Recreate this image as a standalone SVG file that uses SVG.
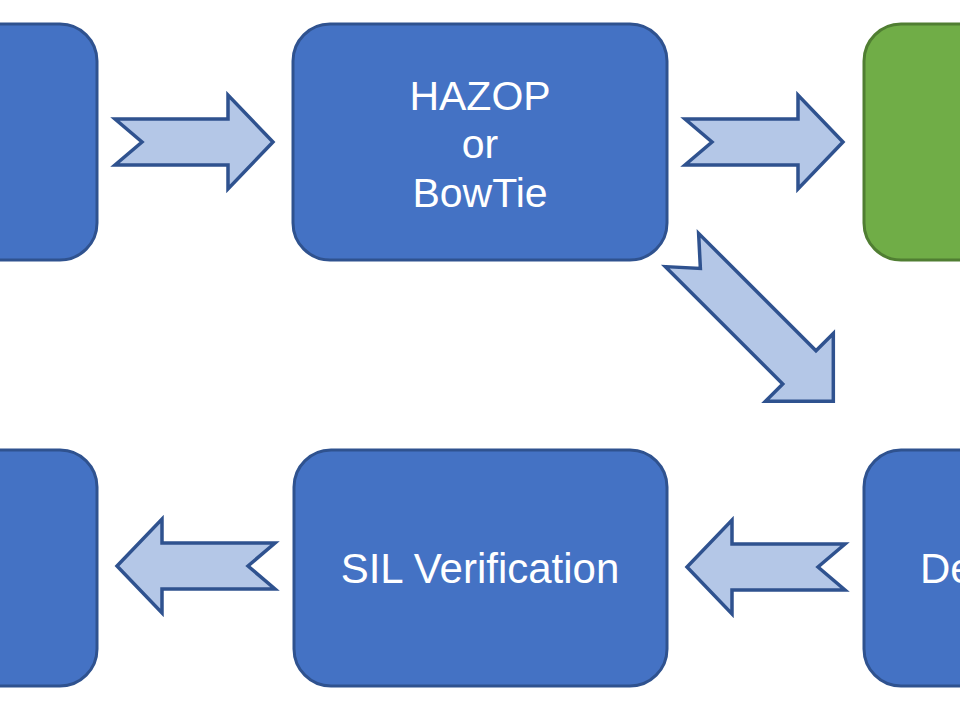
<svg xmlns="http://www.w3.org/2000/svg" width="960" height="720" viewBox="0 0 960 720">
  <style>
    .box { fill: #4472C4; stroke: #2F528F; stroke-width: 3; }
    .green { fill: #70AD47; stroke: #507E32; stroke-width: 3; }
    .label { font-family: "Liberation Sans", Arial, sans-serif; font-size: 41px; fill: #FFFFFF; text-anchor: middle; }
    .arrow { fill: #B4C7E7; stroke: #2F528F; stroke-width: 3.5; stroke-linejoin: miter; }
  </style>
  <defs>
    <polygon id="arrowR" points="0,-23 113,-23 113,-47 158,0 113,47 113,23 0,23 27,0"/>
  </defs>
  <rect width="960" height="720" fill="#FFFFFF"/>

  <g id="node-top-left">
    <rect class="box" x="-277" y="24" width="374" height="236" rx="37" ry="37"/>
  </g>
  <g id="node-hazop">
    <rect class="box" x="293" y="24" width="374" height="236" rx="37" ry="37"/>
    <text class="label" x="480" y="110">HAZOP</text>
    <text class="label" x="480" y="158">or</text>
    <text class="label" x="480" y="207">BowTie</text>
  </g>
  <g id="node-top-right">
    <rect class="green" x="864" y="24" width="374" height="236" rx="37" ry="37"/>
  </g>
  <g id="node-bottom-left">
    <rect class="box" x="-277" y="450" width="374" height="236" rx="37" ry="37"/>
  </g>
  <g id="node-sil">
    <rect class="box" x="294" y="450" width="373" height="236" rx="37" ry="37"/>
    <text class="label" x="480" y="583" style="font-size:42px">SIL Verification</text>
  </g>
  <g id="node-bottom-right">
    <rect class="box" x="864" y="450" width="374" height="236" rx="37" ry="37"/>
    <text class="label" x="920" y="583" style="text-anchor:start;font-size:42px">De</text>
  </g>

  <g id="connectors">
    <use href="#arrowR" class="arrow" transform="translate(115,142)"/>
    <use href="#arrowR" class="arrow" transform="translate(685,142)"/>
    <polygon class="arrow" transform="translate(682,250) rotate(45)" points="0,-23.5 166,-23.5 166,-48 214,0 166,48 166,23.5 0,23.5 26,0"/>
    <use href="#arrowR" class="arrow" transform="translate(275,566) scale(-1,1)"/>
    <use href="#arrowR" class="arrow" transform="translate(845,567) scale(-1,1)"/>
  </g>
</svg>
